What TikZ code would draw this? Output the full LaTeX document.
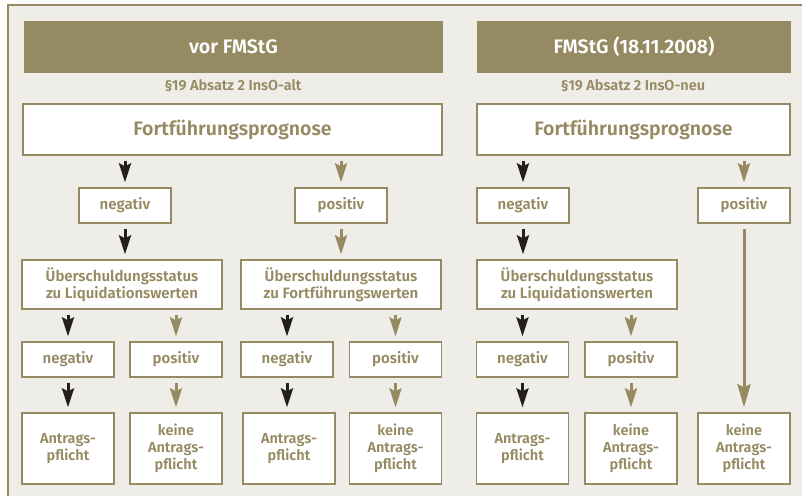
\documentclass[tikz,border=0pt]{standalone}
\usepackage{fontspec}
\setmainfont{Fira Sans}[BoldFont={Fira Sans SemiBold}]
\usetikzlibrary{arrows.meta}
\definecolor{tan}{HTML}{968A62}
\definecolor{bg}{HTML}{EFEDE8}
\definecolor{ink}{HTML}{231F20}
\tikzset{
  box/.style={draw=tan, fill=white, line width=1.3pt, inner sep=0pt, text=tan,
    align=center, font=\bfseries\fontsize{15}{17}\selectfont},
  small/.style={box, minimum width=92pt, minimum height=35pt},
  ueb/.style={box, minimum width=200pt, minimum height=49pt, font=\bfseries\fontsize{15}{17}\selectfont},
  final/.style={box, minimum width=92pt, minimum height=71pt, font=\bfseries\fontsize{14.5}{17}\selectfont},
  prog/.style={box, minimum height=51pt, font=\bfseries\fontsize{19.5}{22}\selectfont},
  hdr/.style={fill=tan, inner sep=0pt, minimum height=52pt, text=white, font=\bfseries\fontsize{19.5}{22}\selectfont},
  sub/.style={text=tan, inner sep=0pt, font=\bfseries\fontsize{14.5}{16}\selectfont},
  arr/.style={line width=3pt, shorten <=5pt, shorten >=5pt, -{Stealth[length=19pt,width=12pt,inset=3pt]}},
  darr/.style={arr, draw=ink},
  tarr/.style={arr, draw=tan},
  larr/.style={tarr, -{Stealth[length=23pt,width=13pt,inset=3pt]}},
}
\begin{document}
\begin{tikzpicture}[x=1pt,y=-1pt]
\useasboundingbox (0,0) rectangle (802,495);
\fill[white] (0,0) rectangle (802,495);
\draw[fill=bg, draw=tan, line width=2pt] (8,5) rectangle (810,505);
% headers
\node[hdr, minimum width=419pt] (hL) at (233.5,47) {vor FMStG};
\node[hdr, minimum width=314pt] (hR) at (634,47) {FMStG (18.11.2008)};
\node[sub] (sL) at (233,86) {§19 Absatz 2 InsO-alt};
\node[sub] (sR) at (633,86) {§19 Absatz 2 InsO-neu};
% prognose
\node[prog, minimum width=419pt] (fpL) at (232.5,129.5) {Fortführungsprognose};
\node[prog, minimum width=313pt] (fpR) at (633.5,129.5) {Fortführungsprognose};
% row 1
\node[small] (nL) at (125,205.5) {negativ};
\node[small] (pL) at (341,205.5) {positiv};
\node[small] (nR) at (523,205.5) {negativ};
\node[small] (pR) at (744,205.5) {positiv};
% ueberschuldung
\node[ueb] (uL) at (122,284.5) {Überschuldungsstatus\\zu Liquidationswerten};
\node[ueb] (uM) at (341,284.5) {Überschuldungsstatus\\zu Fortführungswerten};
\node[ueb] (uR) at (577,284.5) {Überschuldungsstatus\\zu Liquidationswerten};
% row 2
\node[small] (n1) at (68,359.5) {negativ};
\node[small] (p1) at (176,359.5) {positiv};
\node[small] (n2) at (287,359.5) {negativ};
\node[small] (p2) at (395.5,359.5) {positiv};
\node[small] (n3) at (522.5,359.5) {negativ};
\node[small] (p3) at (631,359.5) {positiv};
% finals
\node[final] (a1) at (68,448.5) {Antrags-\\pflicht};
\node[final] (k1) at (176,448.5) {keine\\Antrags-\\pflicht};
\node[final] (a2) at (289,448.5) {Antrags-\\pflicht};
\node[final] (k2) at (395.5,448.5) {keine\\Antrags-\\pflicht};
\node[final] (a3) at (522.5,448.5) {Antrags-\\pflicht};
\node[final] (k3) at (631,448.5) {keine\\Antrags-\\pflicht};
\node[final] (k4) at (744,448.5) {keine\\Antrags-\\pflicht};
% arrows
\draw[darr] (fpL.south -| nL) -- (nL.north);
\draw[tarr] (fpL.south -| pL) -- (pL.north);
\draw[darr] (fpR.south -| nR) -- (nR.north);
\draw[tarr] (fpR.south -| pR) -- (pR.north);
\draw[darr] (nL.south) -- (uL.north -| nL);
\draw[tarr] (pL.south) -- (uM.north -| pL);
\draw[darr] (nR.south) -- (uR.north -| nR);
\draw[larr] (pR.south) -- (k4.north);
\draw[darr] (uL.south -| n1) -- (n1.north);
\draw[tarr] (uL.south -| p1) -- (p1.north);
\draw[darr] (uM.south -| n2) -- (n2.north);
\draw[tarr] (uM.south -| p2) -- (p2.north);
\draw[darr] (uR.south -| n3) -- (n3.north);
\draw[tarr] (uR.south -| p3) -- (p3.north);
\draw[darr] (n1) -- (a1);
\draw[tarr] (p1) -- (k1);
\draw[darr] (n2.south) -- (a2.north -| n2);
\draw[tarr] (p2) -- (k2);
\draw[darr] (n3) -- (a3);
\draw[tarr] (p3) -- (k3);
\end{tikzpicture}
\end{document}
